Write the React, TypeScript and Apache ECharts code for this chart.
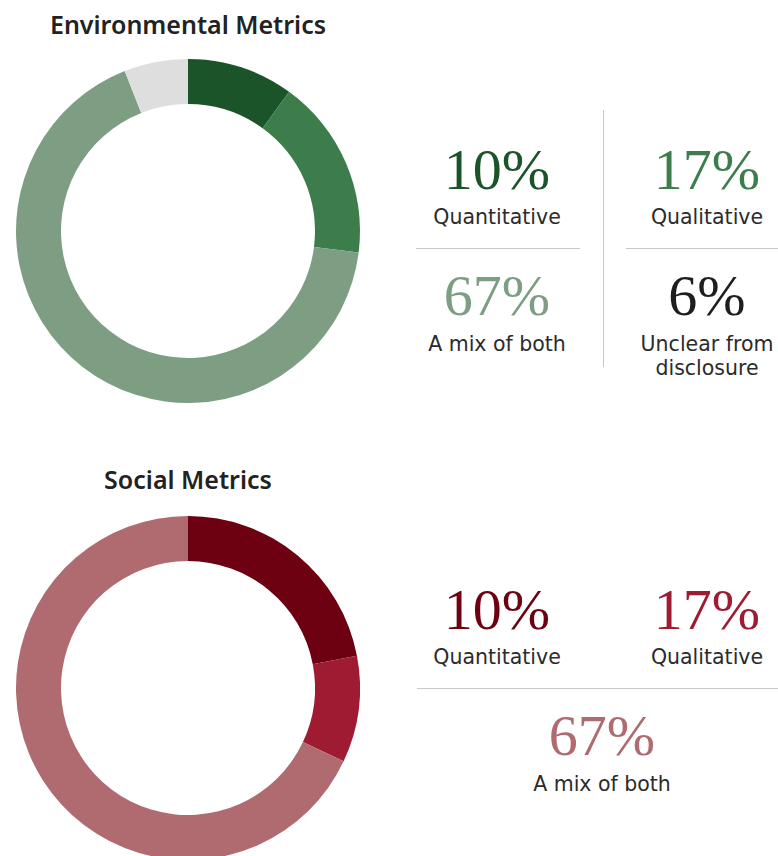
import React, { useEffect, useRef } from "react";
import * as echarts from "echarts";

const envNames = ["Quantitative", "Qualitative", "A mix of both", "Unclear from disclosure"];
const envValues = [10, 17, 67, 6];
const envColors = ["#1c5429", "#3d7d4c", "#7d9e82", "#dedede"];
const envNumberColors = ["#1c5429", "#3d7d4c", "#7d9e82", "#1e1e1e"];
const envLabels = ["Quantitative", "Qualitative", "A mix of both", "Unclear from\ndisclosure"];

const socialNames = ["Quantitative", "Qualitative", "A mix of both"];
const socialSliceValues = [22, 10, 68];
const socialStatedValues = [10, 17, 67];
const socialColors = ["#6d0011", "#9e1b32", "#b06b71"];
const socialLabels = ["Quantitative", "Qualitative", "A mix of both"];

const titles = ["Environmental Metrics", "Social Metrics"];

const TITLE_FONT = "'Noto Sans', sans-serif";
const LABEL_FONT = "'DejaVu Sans', sans-serif";
const SERIF = "'Liberation Serif', serif";
const LABEL_COLOR = "#2b2b2b";

export default function App() {
  const ref = useRef<HTMLDivElement>(null);
  useEffect(() => {
    if (!ref.current) return;
    const chart = echarts.init(ref.current, null, { renderer: "svg" });

    const txt = (
      text: string,
      x: number,
      y: number,
      size: number,
      color: string,
      font: string,
      lineHeight: number,
      weight: any = "normal",
      vAlign = "middle"
    ) => ({
      type: "text",
      x,
      y,
      silent: true,
      style: {
        text,
        align: "center",
        verticalAlign: vAlign,
        fontSize: size,
        lineHeight,
        fontFamily: font,
        fontWeight: weight,
        fill: color,
      },
    });

    const line = (x1: number, y1: number, x2: number, y2: number) => ({
      type: "line",
      silent: true,
      shape: { x1, y1, x2, y2 },
      style: { stroke: "#c8c8c8", lineWidth: 1 },
    });

    const graphics: any[] = [];
    graphics.push(txt(titles[0], 188, 24, 25, "#222", TITLE_FONT, 30, 600));
    graphics.push(txt(titles[1], 188, 479, 25, "#222", TITLE_FONT, 30, 600));

    // Environmental grid
    const envCx = [497, 707, 497, 707];
    const envNumY = [169, 169, 295, 295];
    const envLabTop = [205, 205, 332, 332];
    envValues.forEach((v, i) => {
      graphics.push(txt(`${v}%`, envCx[i], envNumY[i], 58, envNumberColors[i], SERIF, 60));
      graphics.push(txt(envLabels[i], envCx[i], envLabTop[i], 20.5, LABEL_COLOR, LABEL_FONT, 24, "normal", "top"));
    });
    graphics.push(line(603.5, 110, 603.5, 367));
    graphics.push(line(416, 248.5, 580, 248.5));
    graphics.push(line(626, 248.5, 778, 248.5));

    // Social grid
    const socCx = [497, 707, 602];
    const socNumY = [609, 609, 735];
    const socLabTop = [645, 645, 772];
    socialStatedValues.forEach((v, i) => {
      graphics.push(txt(`${v}%`, socCx[i], socNumY[i], 58, socialColors[i], SERIF, 60));
      graphics.push(txt(socialLabels[i], socCx[i], socLabTop[i], 20.5, LABEL_COLOR, LABEL_FONT, 24, "normal", "top"));
    });
    graphics.push(line(417, 688.5, 778, 688.5));

    chart.setOption({
      animation: false,
      graphic: graphics,
      series: [
        {
          type: "pie",
          center: [188, 231],
          radius: [127, 172],
          startAngle: 90,
          clockwise: true,
          label: { show: false },
          labelLine: { show: false },
          silent: true,
          itemStyle: { borderWidth: 0 },
          data: envValues.map((v, i) => ({ name: envNames[i], value: v, itemStyle: { color: envColors[i] } })),
        },
        {
          type: "pie",
          center: [188, 688],
          radius: [127, 172],
          startAngle: 90,
          clockwise: true,
          label: { show: false },
          labelLine: { show: false },
          silent: true,
          itemStyle: { borderWidth: 0 },
          data: socialSliceValues.map((v, i) => ({ name: socialNames[i], value: v, itemStyle: { color: socialColors[i] } })),
        },
      ],
    });
    return () => chart.dispose();
  }, []);
  return <div ref={ref} style={{ position: "absolute", left: 0, top: 0, width: 778, height: 856 }} />;
}
